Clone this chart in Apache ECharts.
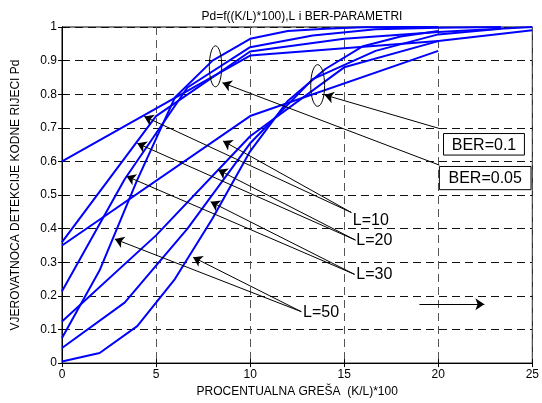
<!DOCTYPE html>
<html>
<head>
<meta charset="utf-8">
<script src="https://cdn.jsdelivr.net/npm/echarts@6/dist/echarts.min.js"></script>
<style>
html,body{margin:0;padding:0;background:#fff}
#chart{width:542px;height:403px}
</style>
</head>
<body>
<div id="chart"></div>
<script>
// Axis ticks
const xTicks = [0, 5, 10, 15, 20, 25];
const yTicks = [0, 0.1, 0.2, 0.3, 0.4, 0.5, 0.6, 0.7, 0.8, 0.9, 1];

// Abscissa (K/L)*100 for each code length L
const xL10 = [0, 10, 20];
const xL20 = [0, 5, 10, 15, 20, 25];
const xL30 = [0, 3.33, 6.67, 10, 13.33, 16.67, 20, 23.33];
const xL50 = [0, 2, 4, 6, 8, 10, 12, 14, 16, 18, 20];

// Pd for BER = 0.05
const pdB005L10 = [0.6, 0.915, 0.958];
const pdB005L20 = [0.36, 0.735, 0.927, 0.965, 0.985, 1.0];
const pdB005L30 = [0.214, 0.547, 0.82, 0.94, 0.975, 0.993, 0.998, 1.0];
const pdB005L50 = [0.075, 0.276, 0.545, 0.79, 0.9, 0.965, 0.988, 0.995, 0.999, 1.0, 1.0];

// Pd for BER = 0.1
const pdB01L10 = [0.35, 0.735, 0.929];
const pdB01L20 = [0.124, 0.38, 0.675, 0.88, 0.958, 0.99];
const pdB01L30 = [0.045, 0.18, 0.40, 0.654, 0.845, 0.929, 0.978, 0.995];
const pdB01L50 = [0.005, 0.03, 0.11, 0.25, 0.43, 0.63, 0.78, 0.875, 0.943, 0.972, 0.988];

// Annotation texts
const curveLabels = ['L=10', 'L=20', 'L=30', 'L=50'];
const berLabels = ['BER=0.1', 'BER=0.05'];

// Annotation geometry (data coordinates)
const labelAnchors = [[15.46, 0.424], [15.64, 0.364], [15.64, 0.264], [12.81, 0.151]];
const labelArrows = [
  [[15.38, 0.448], [4.37, 0.734]], [[15.38, 0.448], [8.56, 0.661]],
  [[15.6, 0.366], [4.0, 0.654]],   [[15.6, 0.366], [8.3, 0.575]],
  [[15.55, 0.264], [3.43, 0.556]], [[15.55, 0.264], [7.9, 0.48]],
  [[12.72, 0.153], [2.81, 0.369]], [[12.72, 0.153], [6.97, 0.315]]
];
const berArrows = [
  [[20.06, 0.698], [13.96, 0.798]],
  [[20.06, 0.589], [8.53, 0.834]],
  [[19.0, 0.175], [22.45, 0.175]]
];
const berBoxes = [[20.28, 0.683, 24.58, 0.619], [20.06, 0.585, 24.93, 0.516]];
const ellipses = [[8.16, 0.883, 0.33, 0.061], [13.59, 0.826, 0.37, 0.062]];

const FONT = '"Liberation Sans", Arial, sans-serif';
const BLUE = '#0000ff';

function pairs(xs, ys) { return xs.map((x, i) => [x, ys[i]]); }

const curves = [
  [xL10, pdB005L10], [xL20, pdB005L20], [xL30, pdB005L30], [xL50, pdB005L50],
  [xL10, pdB01L10], [xL20, pdB01L20], [xL30, pdB01L30], [xL50, pdB01L50]
];

const lineSeries = curves.map(c => ({
  type: 'line',
  data: pairs(c[0], c[1]),
  showSymbol: false,
  symbol: 'none',
  lineStyle: { color: BLUE, width: 2 },
  z: 3,
  silent: true
}));

const chart = echarts.init(document.getElementById('chart'), null, { renderer: 'canvas' });

const axisCommon = {
  axisLine: { show: true, lineStyle: { color: '#000', width: 1 } },
  axisTick: { show: true, inside: true, length: 4, lineStyle: { color: '#000' } }
};

chart.setOption({
  animation: false,
  backgroundColor: '#fff',
  title: {
    text: 'Pd=f((K/L)*100),L i BER-PARAMETRI',
    left: 297, top: 6, textAlign: 'center',
    textStyle: { fontFamily: FONT, fontSize: 12, fontWeight: 'normal', color: '#000' }
  },
  grid: { left: 62, right: 9, top: 27, bottom: 36, show: true, borderColor: '#000', borderWidth: 1 },
  xAxis: [
    Object.assign({
      type: 'value', min: xTicks[0], max: xTicks[xTicks.length - 1], interval: 5,
      name: 'PROCENTUALNA GREŠA  (K/L)*100', nameLocation: 'middle', nameGap: 21,
      nameTextStyle: { fontFamily: FONT, fontSize: 12, color: '#000' },
      axisLabel: { fontFamily: FONT, fontSize: 12, color: '#000', margin: 6 },
      splitLine: { show: true, lineStyle: { type: [8, 5], color: '#555', width: 1 } }
    }, axisCommon),
    Object.assign({
      type: 'value', position: 'top', min: 0, max: 25, interval: 5,
      axisLabel: { show: false }, splitLine: { show: false }
    }, axisCommon)
  ],
  yAxis: [
    Object.assign({
      type: 'value', min: 0, max: 1, interval: 0.1,
      name: 'VJEROVATNOCA DETEKCIJE KODNE RIJECI Pd', nameLocation: 'middle', nameGap: 40,
      nameTextStyle: { fontFamily: FONT, fontSize: 12, color: '#000' },
      axisLabel: {
        fontFamily: FONT, fontSize: 12, color: '#000', margin: 5,
        formatter: v => {
          const t = yTicks.find(k => Math.abs(k - v) < 1e-9);
          return t === undefined ? '' : String(t);
        }
      },
      splitLine: { show: true, lineStyle: { type: [8, 5], color: '#111', width: 1 } }
    }, axisCommon),
    Object.assign({
      type: 'value', position: 'right', min: 0, max: 1, interval: 0.1,
      axisLabel: { show: false }, splitLine: { show: false }
    }, axisCommon)
  ],
  series: lineSeries.concat([
    {
      type: 'lines',
      coordinateSystem: 'cartesian2d',
      polyline: false,
      silent: true,
      z: 4,
      symbol: ['none', 'arrow'],
      symbolSize: 9,
      lineStyle: { color: '#000', width: 1, opacity: 1 },
      data: labelArrows.concat(berArrows).map(a => ({ coords: a }))
    },
    {
      type: 'custom',
      silent: true,
      z: 5,
      data: ellipses,
      renderItem: (params, api) => {
        const c = api.coord([api.value(0), api.value(1)]);
        const s = api.size([api.value(2), api.value(3)]);
        return {
          type: 'ellipse',
          shape: { cx: c[0], cy: c[1], rx: s[0], ry: s[1] },
          style: { fill: null, stroke: '#000', lineWidth: 1 }
        };
      }
    },
    {
      type: 'custom',
      silent: true,
      z: 6,
      data: labelAnchors,
      renderItem: (params, api) => {
        const p = api.coord([api.value(0), api.value(1)]);
        return {
          type: 'text',
          x: p[0], y: p[1],
          style: {
            text: curveLabels[params.dataIndex],
            fontFamily: FONT, fontSize: 16, fill: '#000',
            align: 'left', verticalAlign: 'middle'
          }
        };
      }
    },
    {
      type: 'custom',
      silent: true,
      z: 6,
      data: berBoxes,
      renderItem: (params, api) => {
        const a = api.coord([api.value(0), api.value(1)]);
        const b = api.coord([api.value(2), api.value(3)]);
        return {
          type: 'group',
          children: [
            {
              type: 'rect',
              shape: { x: a[0], y: a[1], width: b[0] - a[0], height: b[1] - a[1] },
              style: { fill: '#fff', stroke: '#000', lineWidth: 1 }
            },
            {
              type: 'text',
              x: (a[0] + b[0]) / 2, y: (a[1] + b[1]) / 2 + 1,
              style: {
                text: berLabels[params.dataIndex],
                fontFamily: FONT, fontSize: 16, fill: '#000',
                align: 'center', verticalAlign: 'middle'
              }
            }
          ]
        };
      }
    }
  ])
});
</script>
</body>
</html>
